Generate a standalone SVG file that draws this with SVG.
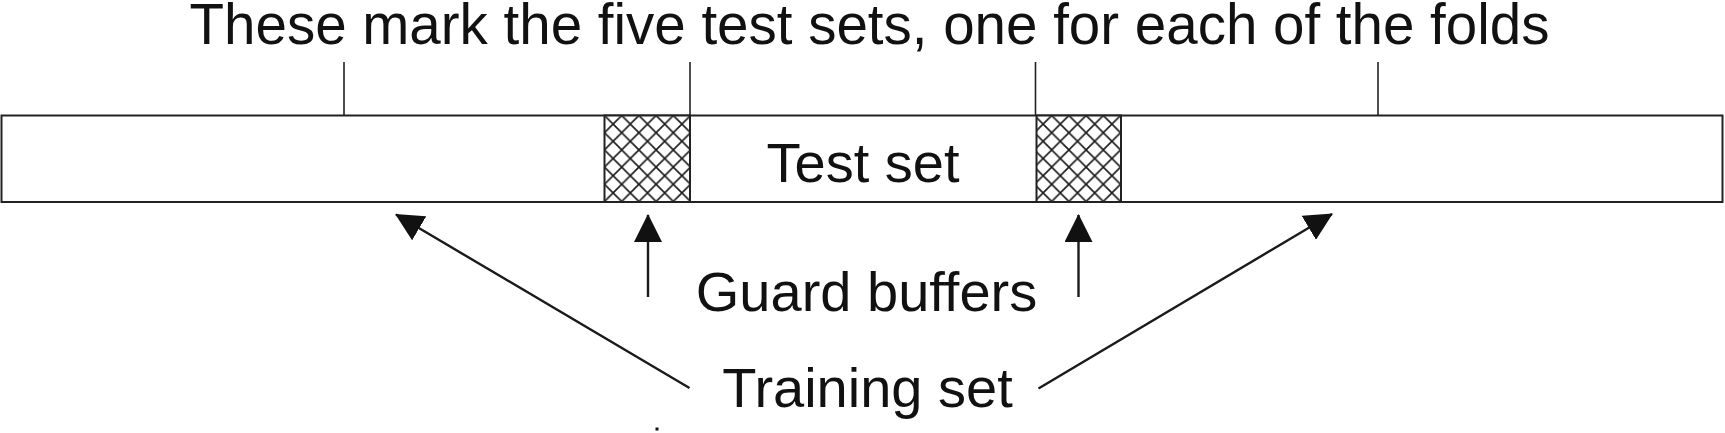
<svg xmlns="http://www.w3.org/2000/svg" width="1725" height="433" viewBox="0 0 1725 433">
  <style>
    .lbl { font-family: "Liberation Sans", Arial, sans-serif; fill: #111; text-anchor: middle; }
    .edge { stroke: #1a1a1a; stroke-width: 2.4; fill: none; }
    .tick { stroke: #222; stroke-width: 1.6; }
    .box { fill: #fff; stroke: #222; stroke-width: 2; }
    .hatch { fill: url(#xhatch); stroke: #222; stroke-width: 2; }
  </style>
  <defs>
    <pattern id="xhatch" patternUnits="userSpaceOnUse" x="604.5" y="115.5" width="17.2" height="17.2">
      <rect width="17.2" height="17.2" fill="#fff"/>
      <path d="M-2,-2 L19.2,19.2 M19.2,-2 L-2,19.2" stroke="#1a1a1a" stroke-width="1.6"/>
    </pattern>
    <marker id="ah" markerUnits="userSpaceOnUse" markerWidth="28" markerHeight="28" refX="27" refY="14" orient="auto" viewBox="0 0 28 28">
      <path d="M0,0 L28,14 L0,28 z" fill="#111"/>
    </marker>
  </defs>
  <rect width="1725" height="433" fill="#fff"/>

  <g id="title">
    <text class="lbl" x="869.5" y="44" font-size="56.5">These mark the five test sets, one for each of the folds</text>
  </g>

  <g id="bar">
    <rect class="box" x="1.5" y="115.5" width="1721" height="86.5"/>
  </g>
  <g id="buffer1">
    <rect class="hatch" x="604.5" y="115.5" width="85.5" height="86.5"/>
  </g>
  <g id="buffer2">
    <rect class="hatch" x="1036.5" y="115.5" width="84.5" height="86.5"/>
  </g>
  <g id="testset">
    <text class="lbl" x="863" y="182" font-size="56">Test set</text>
  </g>
  <g id="guard">
    <text class="lbl" x="866.5" y="311" font-size="56">Guard buffers</text>
  </g>
  <g id="training">
    <text class="lbl" x="867.5" y="407" font-size="56">Training set</text>
  </g>

  <g id="connectors">
    <line class="tick" x1="344" y1="62" x2="344" y2="115.5"/>
    <line class="tick" x1="690" y1="62" x2="690" y2="115.5"/>
    <line class="tick" x1="1035.5" y1="62" x2="1035.5" y2="115.5"/>
    <line class="tick" x1="1378" y1="62" x2="1378" y2="115.5"/>
    <line class="edge" x1="648" y1="297" x2="648" y2="215" marker-end="url(#ah)"/>
    <line class="edge" x1="1078.5" y1="297" x2="1078.5" y2="215" marker-end="url(#ah)"/>
    <line class="edge" x1="689.5" y1="388" x2="396" y2="214.5" marker-end="url(#ah)"/>
    <line class="edge" x1="1038.5" y1="388.5" x2="1332" y2="214" marker-end="url(#ah)"/>
  </g>
  <rect x="655.5" y="427.5" width="3" height="3" fill="#111"/>
</svg>
